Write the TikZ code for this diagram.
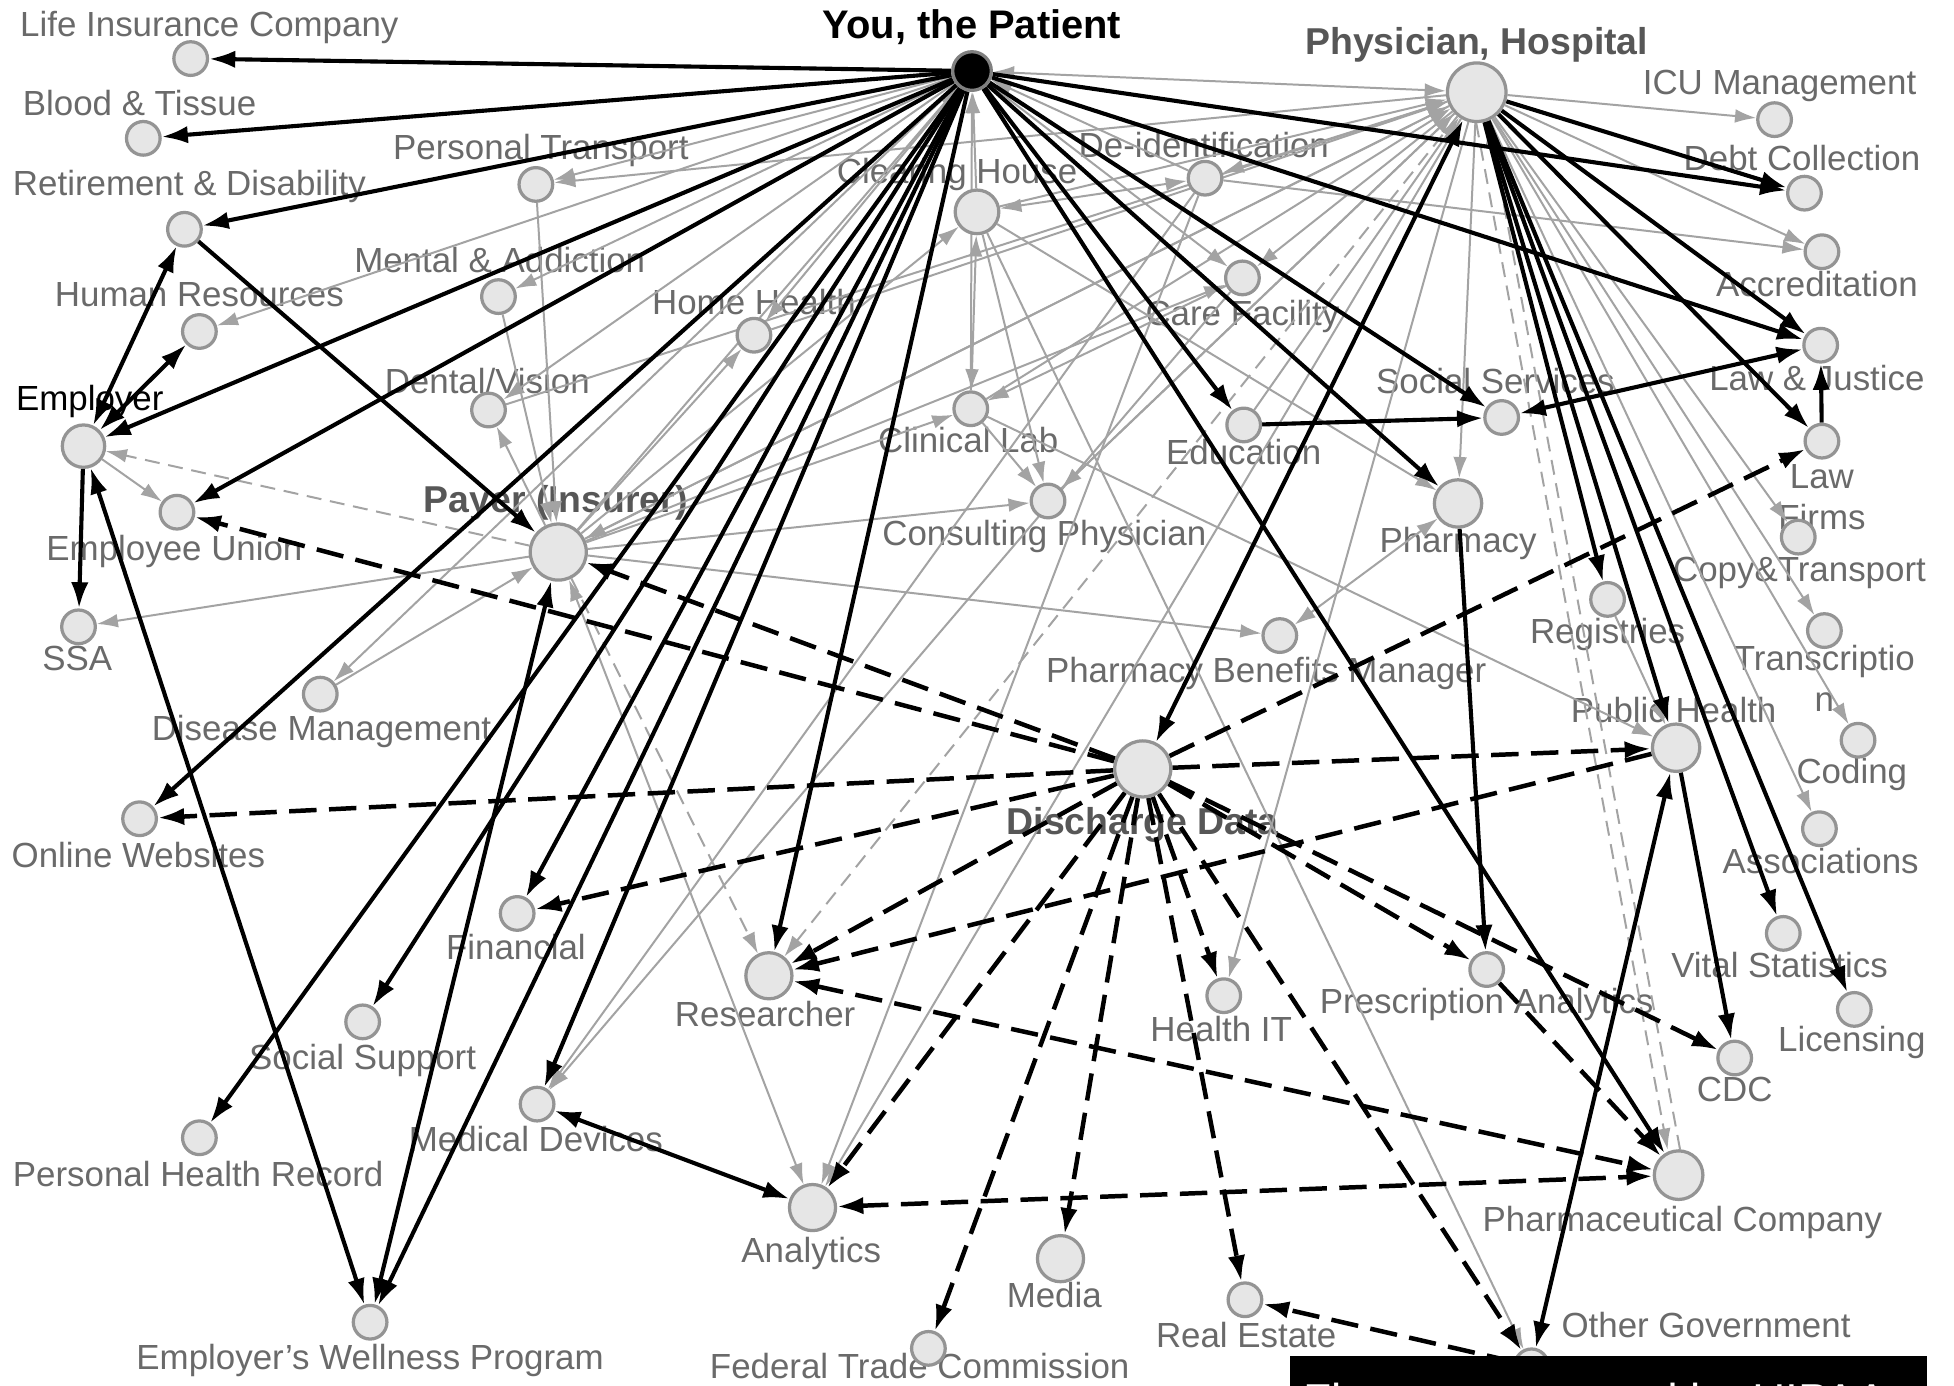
\documentclass[tikz,border=0pt]{standalone}
\usepackage{fontspec}
\setmainfont{Liberation Sans}
\usetikzlibrary{arrows.meta}
\pgfdeclarelayer{labels}
\pgfdeclarelayer{dots}
\pgfdeclarelayer{cover}
\pgfsetlayers{labels,main,dots,cover}

\definecolor{nodefill}{HTML}{E6E6E6}
\definecolor{noderim}{HTML}{949494}
\definecolor{labgray}{HTML}{6A6A6A}
\definecolor{edgegray}{HTML}{A3A3A3}
\definecolor{boldgray}{HTML}{575757}

\begin{document}
\begin{tikzpicture}[x=1pt,y=-1pt,
  dot/.style={circle,fill=nodefill,draw=noderim,line width=2.6pt,inner sep=0pt,minimum size=#1},
  dot/.default=27pt,
  lab/.style={text=labgray,font=\fontsize{28}{30}\selectfont,inner sep=0pt,anchor=base},
  boldlab/.style={text=boldgray,font=\bfseries\fontsize{30}{32}\selectfont,inner sep=0pt,anchor=base},
  blk/.style={black,line width=3.3pt,-{Latex[length=21pt,width=14pt]}},
  blkboth/.style={black,line width=3.3pt,{Latex[length=21pt,width=14pt]}-{Latex[length=21pt,width=14pt]}},
  bdash/.style={blk,line width=3.6pt,dash pattern=on 22pt off 10pt},
  bdashboth/.style={blkboth,line width=3.6pt,dash pattern=on 22pt off 10pt},
  gry/.style={edgegray,line width=1.6pt,-{Latex[length=17pt,width=11pt]}},
  gryboth/.style={edgegray,line width=1.6pt,{Latex[length=17pt,width=11pt]}-{Latex[length=17pt,width=11pt]}},
  gdash/.style={gry,dash pattern=on 12pt off 7pt}
]
% page frame
\path[use as bounding box] (0,0) rectangle (1568,1112);
\begin{pgfonlayer}{labels}
\fill[white] (0,0) rectangle (1568,1112);
\end{pgfonlayer}

% ---------- entities ----------
\begin{pgfonlayer}{dots}
\node[dot=31pt,fill=black,draw=gray] (pat) at (780,57) {};
\node[dot=47pt] (phys) at (1185,74) {};
\node[dot] (lifeins) at (153,47) {};
\node[dot] (blood) at (115,111) {};
\node[dot] (retdis) at (148,184) {};
\node[dot] (ptrans) at (430,148) {};
\node[dot] (mental) at (400,238) {};
\node[dot] (hr) at (160,266) {};
\node[dot] (homeh) at (605,269) {};
\node[dot] (dental) at (392,329) {};
\node[dot=34pt] (employer) at (67,358) {};
\node[dot] (union) at (142,411) {};
\node[dot] (ssa) at (63,503) {};
\node[dot=45pt] (payer) at (448,443) {};
\node[dot] (disease) at (257,557) {};
\node[dot] (online) at (112,657) {};
\node[dot] (financial) at (415,733) {};
\node[dot] (socsup) at (291,820) {};
\node[dot] (phr) at (160,913) {};
\node[dot] (meddev) at (431,886) {};
\node[dot] (wellness) at (297,1061) {};
\node[dot=37pt] (research) at (617,783) {};
\node[dot=37pt] (analytics) at (652,969) {};
\node[dot] (ftc) at (745,1082) {};
\node[dot=37pt] (media) at (851,1010) {};
\node[dot] (realest) at (999,1043) {};
\node[dot] (healthit) at (982,799) {};
\node[dot=45pt] (discharge) at (917,617) {};
\node[dot] (rxanal) at (1193,778) {};
\node[dot] (pbm) at (1027,510) {};
\node[dot=38pt] (pharmacy) at (1170,404) {};
\node[dot] (consult) at (841,402) {};
\node[dot] (clinlab) at (779,328) {};
\node[dot] (educ) at (998,341) {};
\node[dot] (carefac) at (997,223) {};
\node[dot] (deid) at (967,143) {};
\node[dot=35pt] (clearing) at (784,170) {};
\node[dot] (icu) at (1424,96) {};
\node[dot] (debt) at (1448,155) {};
\node[dot] (accred) at (1462,202) {};
\node[dot] (lawjust) at (1461,277) {};
\node[dot] (socserv) at (1205,335) {};
\node[dot] (lawfirms) at (1462,354) {};
\node[dot] (copy) at (1443,431) {};
\node[dot] (registries) at (1290,481) {};
\node[dot] (transcr) at (1464,506) {};
\node[dot=38pt] (pubhealth) at (1345,600) {};
\node[dot] (coding) at (1491,594) {};
\node[dot] (assoc) at (1460,665) {};
\node[dot] (vital) at (1431,749) {};
\node[dot] (licensing) at (1488,810) {};
\node[dot] (cdc) at (1392,849) {};
\node[dot=39pt] (pharma) at (1347,943) {};
\node[dot] (othergov) at (1229,1096) {};
\end{pgfonlayer}

% ---------- labels ----------
\begin{pgfonlayer}{labels}
\node[boldlab,text=black,font=\bfseries\fontsize{32}{34}\selectfont] (t-pat) at (780,31) {You, the Patient};
\node[boldlab] (t-phys) at (1185,44) {Physician, Hospital};
\node[boldlab] (t-payer) at (446,411) {Payer (Insurer)};
\node[boldlab] (t-discharge) at (917,670) {Discharge Data};
\node[lab] (t-lifeins) at (168,29) {Life Insurance Company};
\node[lab] (t-blood) at (112,93) {Blood \& Tissue};
\node[lab] (t-retdis) at (152,157) {Retirement \& Disability};
\node[lab] (t-ptrans) at (434,128) {Personal Transport};
\node[lab] (t-mental) at (401,219) {Mental \& Addiction};
\node[lab] (t-hr) at (160,246) {Human Resources};
\node[lab] (t-homeh) at (605,252) {Home Health};
\node[lab] (t-dental) at (391,316) {Dental/Vision};
\node[lab,text=black] (t-employer) at (72,329) {Employer};
\node[lab] (t-union) at (140,450) {Employee Union};
\node[lab] (t-ssa) at (62,538) {SSA};
\node[lab] (t-disease) at (258,594) {Disease Management};
\node[lab] (t-online) at (111,696) {Online Websites};
\node[lab] (t-financial) at (414,770) {Financial};
\node[lab] (t-socsup) at (291,858) {Social Support};
\node[lab] (t-phr) at (159,952) {Personal Health Record};
\node[lab] (t-meddev) at (430,924) {Medical Devices};
\node[lab] (t-wellness) at (297,1099) {Employer’s Wellness Program};
\node[lab] (t-research) at (614,824) {Researcher};
\node[lab] (t-analytics) at (651,1013) {Analytics};
\node[lab] (t-ftc) at (738,1106) {Federal Trade Commission};
\node[lab] (t-media) at (846,1049) {Media};
\node[lab] (t-realest) at (1000,1081) {Real Estate};
\node[lab] (t-healthit) at (980,836) {Health IT};
\node[lab] (t-rxanal) at (1193,813) {Prescription Analytics};
\node[lab] (t-pbm) at (1016,548) {Pharmacy Benefits Manager};
\node[lab] (t-pharmacy) at (1170,443) {Pharmacy};
\node[lab] (t-consult) at (838,438) {Consulting Physician};
\node[lab] (t-clinlab) at (777,363) {Clinical Lab};
\node[lab] (t-educ) at (998,373) {Education};
\node[lab] (t-carefac) at (997,261) {Care Facility};
\node[lab] (t-deid) at (966,126) {De-identification};
\node[lab] (t-clearing) at (768,147) {Clearing House};
\node[lab] (t-icu) at (1428,76) {ICU Management};
\node[lab] (t-debt) at (1446,137) {Debt Collection};
\node[lab] (t-accred) at (1458,238) {Accreditation};
\node[lab] (t-lawjust) at (1458,313) {Law \& Justice};
\node[lab] (t-socserv) at (1200,316) {Social Services};
\node[lab] (t-law) at (1462,392) {Law};
\node[lab] (t-firms) at (1462,425) {Firms};
\node[lab] (t-copy) at (1444,467) {Copy\&Transport};
\node[lab] (t-registries) at (1290,516) {Registries};
\node[lab] (t-transcr) at (1464,538) {Transcriptio};
\node[lab] (t-transcr2) at (1464,571) {n};
\node[lab] (t-pubhealth) at (1343,580) {Public Health};
\node[lab] (t-coding) at (1486,629) {Coding};
\node[lab] (t-assoc) at (1461,701) {Associations};
\node[lab] (t-vital) at (1428,784) {Vital Statistics};
\node[lab] (t-licensing) at (1486,844) {Licensing};
\node[lab] (t-cdc) at (1392,884) {CDC};
\node[lab] (t-pharma) at (1350,988) {Pharmaceutical Company};
\node[lab] (t-othergov) at (1369,1073) {Other Government};
\end{pgfonlayer}

% ---------- grey flows ----------
\foreach \a/\b in {pat/ptrans,phys/ptrans,pat/hr,pat/mental,pat/dental,pat/homeh,
  pat/disease,pat/carefac,payer/pat,clinlab/pat,clearing/pat,deid/pat,
  payer/phys,clearing/phys,homeh/phys,clinlab/phys,dental/phys,consult/phys,educ/phys,
  phys/icu,phys/accred,deid/accred,phys/deid,phys/copy,phys/transcr,phys/coding,
  phys/assoc,phys/carefac,phys/pharmacy,phys/healthit,phys/analytics,phys/consult,
  phys/payer,carefac/meddev,deid/meddev,registries/pubhealth,clinlab/pubhealth,
  clearing/pharmacy,clearing/othergov,payer/pbm,payer/consult,clinlab/consult,
  clearing/consult,payer/clinlab,payer/homeh,payer/clearing,mental/payer,
  ptrans/payer,payer/dental,payer/ssa,employer/union,disease/payer,deid/analytics,
  carefac/clinlab,payer/carefac}
  \draw[gry] (\a) -- (\b);
\foreach \a/\b in {pat/phys,pharmacy/pbm,clearing/clinlab,clearing/deid,payer/analytics}
  \draw[gryboth] (\a) -- (\b);
\draw[gdash] (payer) -- (employer);
\draw[gdash] (payer) -- (research);
\draw[gdash] (phys) -- (research);
\draw[gdash,transform canvas={xshift=-5pt}] (phys) -- (pharma);
\draw[gdash,transform canvas={xshift=5pt}] (pharma) -- (phys);

% ---------- discharge data flows ----------
\foreach \b in {union,payer,online,financial,research,analytics,ftc,media,realest,
  healthit,othergov,rxanal,cdc,pubhealth,lawfirms}
  \draw[bdash] (discharge) -- (\b);
\draw[bdash] (pubhealth) -- (research);
\draw[bdash] (rxanal) -- (pharma);
\draw[bdash] (othergov) -- (realest);
\draw[bdashboth] (research) -- (pharma);
\draw[bdashboth] (analytics) -- (pharma);

% ---------- direct flows ----------
\foreach \b in {lifeins,blood,retdis,employer,union,online,phr,socsup,financial,
  meddev,research,wellness,educ,pharmacy,pharma,socserv,debt,lawjust}
  \draw[blk] (pat) -- (\b);
\foreach \b in {debt,lawjust,lawfirms,registries,pubhealth,vital,licensing}
  \draw[blk] (phys) -- (\b);
\draw[blkboth] (phys) -- (discharge);
\draw[blk] (lawfirms) -- (lawjust);
\draw[blkboth] (lawjust) -- (socserv);
\draw[blk] (educ) -- (socserv);
\draw[blk] (pharmacy) -- (rxanal);
\draw[blkboth] (pubhealth) -- (othergov);
\draw[blk] (pubhealth) -- (cdc);
\draw[blkboth] (meddev) -- (analytics);
\draw[blkboth] (employer) -- (retdis);
\draw[blkboth] (employer) -- (hr);
\draw[blk] (employer) -- (ssa);
\draw[blkboth] (employer) -- (wellness);
\draw[blkboth] (payer) -- (wellness);
\draw[blk] (retdis) -- (payer);

% ---------- caption bar ----------
\begin{pgfonlayer}{cover}
\fill[black] (1035,1088) rectangle (1546,1140);
\node[anchor=base west,text=white,font=\fontsize{37}{40}\selectfont,inner sep=0pt]
  (caption) at (1046,1137) {Flows not covered by HIPAA};
\end{pgfonlayer}
\end{tikzpicture}
\end{document}
